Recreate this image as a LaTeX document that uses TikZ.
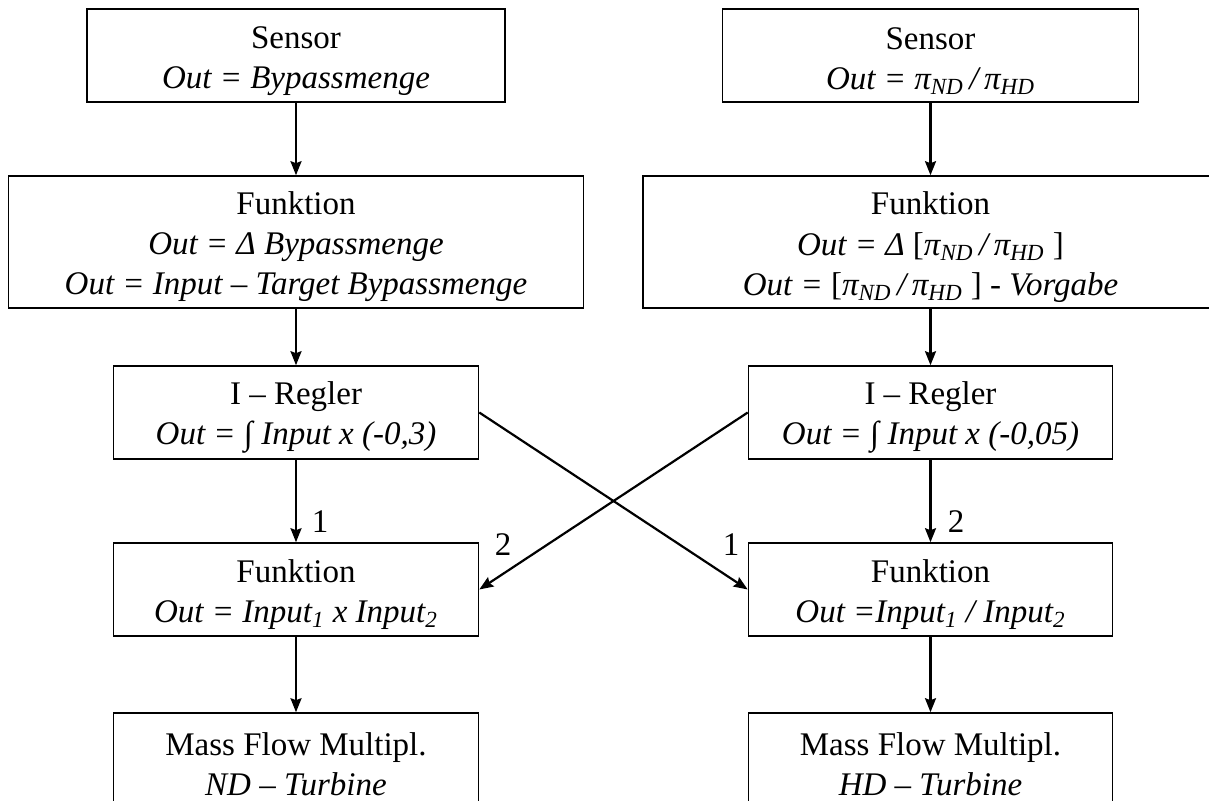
\documentclass[tikz,border=0pt]{standalone}
\usepackage{fontspec}
\setmainfont{Liberation Serif}
\usetikzlibrary{arrows.meta}

\newcommand{\hd}[1]{\rule{0pt}{16.5pt}#1}
\tikzset{block/.style={draw,line width=0.8pt,inner sep=0pt,align=center,font=\fontsize{16.5}{20}\selectfont},
         flow/.style={line width=1.1pt,-{Stealth[length=7pt,width=5.5pt,inset=1pt]}},
         lbl/.style={inner sep=0pt,font=\fontsize{16.5}{20}\selectfont}}

\begin{document}
\begin{tikzpicture}[x=0.5pt,y=-0.5pt]
        \useasboundingbox (0,0) rectangle (1209,800);
        % left chain
        \node[block,minimum width=209pt,minimum height=46.5pt] (sensorND) at (296,55.5) {\hd{Sensor}\\\textit{Out = Bypassmenge}};
        \node[block,minimum width=287.5pt,minimum height=66pt] (funcND) at (296,242) {\hd{Funktion}\\\textit{Out = Δ Bypassmenge}\\\textit{Out = Input – Target Bypassmenge}};
        \node[block,minimum width=182.5pt,minimum height=46.5pt] (reglerND) at (296,412.5) {\hd{I – Regler}\\\textit{Out =} ∫ \textit{Input x (-0,3)}};
        \node[block,minimum width=182.5pt,minimum height=46.5pt] (multND) at (296,589.5) {\hd{Funktion}\\\textit{Out = Input\textsubscript{1} x Input\textsubscript{2}}};
        \node[block,minimum width=182.5pt,minimum height=46.5pt] (massND) at (296,759.5) {\hd{Mass Flow Multipl.}\\\textit{ND – Turbine}};
        % right chain
        \node[block,minimum width=208pt,minimum height=46.5pt] (sensorHD) at (930.5,55.5) {\hd{Sensor}\\\textit{Out = π\textsubscript{ND}\,/\,π\textsubscript{HD}}};
        \node[block,minimum width=287.5pt,minimum height=66pt] (funcHD) at (930.5,242) {\hd{Funktion}\\\textit{Out = Δ} [\textit{π\textsubscript{ND}\,/\,π\textsubscript{HD}} ]\\\textit{Out =} [\textit{π\textsubscript{ND}\,/\,π\textsubscript{HD}} ] \textit{- Vorgabe}};
        \node[block,minimum width=182pt,minimum height=46.5pt] (reglerHD) at (930.5,412.5) {\hd{I – Regler}\\\textit{Out =} ∫ \textit{Input x (-0,05)}};
        \node[block,minimum width=182pt,minimum height=46.5pt] (divHD) at (930.5,589.5) {\hd{Funktion}\\\textit{Out =Input\textsubscript{1} / Input\textsubscript{2}}};
        \node[block,minimum width=182pt,minimum height=46.5pt] (massHD) at (930.5,759.5) {\hd{Mass Flow Multipl.}\\\textit{HD – Turbine}};
        % connectors
        \draw[flow] (sensorND) -- (funcND);
        \draw[flow] (funcND) -- (reglerND);
        \draw[flow] (reglerND) -- (multND);
        \draw[flow] (multND) -- (massND);
        \draw[flow] (sensorHD) -- (funcHD);
        \draw[flow] (funcHD) -- (reglerHD);
        \draw[flow] (reglerHD) -- (divHD);
        \draw[flow] (divHD) -- (massHD);
        \draw[flow] (reglerND.east) -- (divHD.west);
        \draw[flow] (reglerHD.west) -- (multND.east);
        % input numbers
        \node[lbl] (inND1) at (320,522) {1};
        \node[lbl] (inHD2) at (956,522) {2};
        \node[lbl] (inND2) at (503,545) {2};
        \node[lbl] (inHD1) at (731,545) {1};
    \end{tikzpicture}
\end{document}
